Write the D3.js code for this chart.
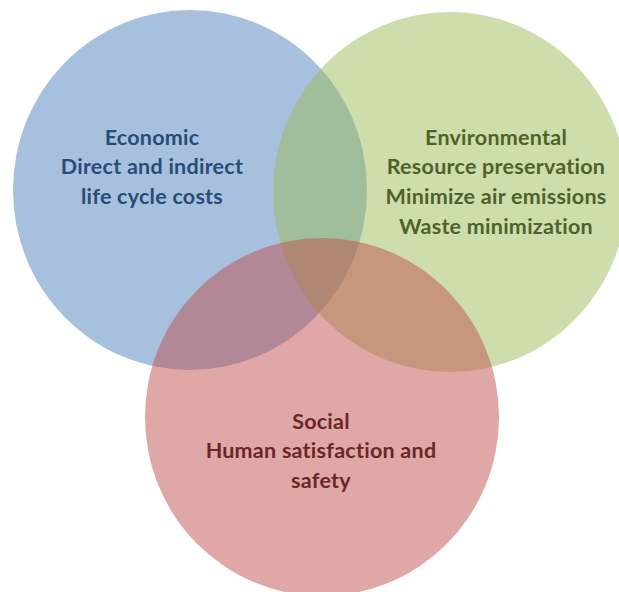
<!DOCTYPE html>
<html>
<head>
<meta charset="utf-8">
<script src="https://cdn.jsdelivr.net/npm/d3@7"></script>
<style>
  html, body { margin: 0; padding: 0; background: #ffffff; }
  svg { display: block; }
</style>
</head>
<body>
<div id="chart"></div>
<script>
// ---- data ----
const sets = ["Economic", "Environmental", "Social"];
const setLines = [
  ["Economic", "Direct and indirect", "life cycle costs"],
  ["Environmental", "Resource preservation", "Minimize air emissions", "Waste minimization"],
  ["Social", "Human satisfaction and", "safety"]
];
const baseColors = ["#4f81bd", "#9bbb59", "#c0504d"];
const textColors = ["#2b4b78", "#4f6228", "#6b2627"];

// ---- layout (not data) ----
const W = 619, H = 592;
const layout = {
  Economic:      { cx: 190, cy: 190, rx: 177, ry: 180, tx: 152, ty: 137 },
  Environmental: { cx: 450, cy: 192, rx: 177, ry: 180, tx: 496, ty: 137 },
  Social:        { cx: 322, cy: 417, rx: 177, ry: 179, tx: 321, ty: 421 }
};
const lineGap = 29.7;

const color = d3.scaleOrdinal().domain(sets).range(baseColors);
const tcolor = d3.scaleOrdinal().domain(sets).range(textColors);

const svg = d3.select("#chart").append("svg")
  .attr("width", W).attr("height", H);

svg.selectAll("ellipse.set")
  .data(sets)
  .join("ellipse")
  .attr("class", "set")
  .attr("cx", d => layout[d].cx)
  .attr("cy", d => layout[d].cy)
  .attr("rx", d => layout[d].rx)
  .attr("ry", d => layout[d].ry)
  .attr("fill", d => color(d))
  .attr("fill-opacity", 0.5);

const labels = svg.selectAll("text.lab")
  .data(sets)
  .join("text")
  .attr("class", "lab")
  .attr("text-anchor", "middle")
  .attr("font-family", "Lato, 'Open Sans', sans-serif")
  .attr("font-weight", "bold")
  .attr("font-size", 21.5)
  .attr("letter-spacing", 0.25)
  .attr("fill", d => tcolor(d));

labels.selectAll("tspan")
  .data((d, i) => setLines[i].map((t, j) => ({ t, j, set: d })))
  .join("tspan")
  .attr("x", d => layout[d.set].tx)
  .attr("y", d => layout[d.set].ty + d.j * lineGap)
  .attr("dy", "0.35em")
  .text(d => d.t);
</script>
</body>
</html>
